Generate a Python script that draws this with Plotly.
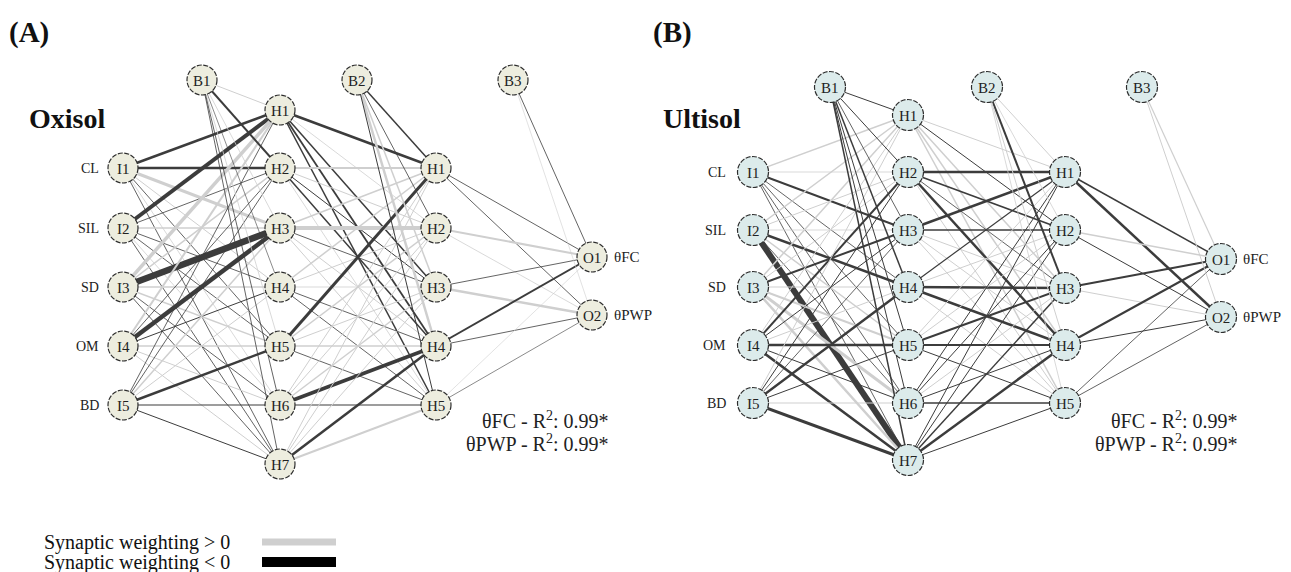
import plotly.graph_objects as go

# ---------------- DATA ----------------
input_labels = ["CL", "SIL", "SD", "OM", "BD"]
output_labels = ["θFC", "θPWP"]
panel_titles = ["Oxisol", "Ultisol"]
panel_tags = ["(A)", "(B)"]
r2_text = ["θFC - R<sup>2</sup>: 0.99*", "θPWP - R<sup>2</sup>: 0.99*"]

# weights (sign: + light grey, - dark) ; rows = source nodes, cols = target nodes
# Panel A (Oxisol)
A_in_h1 = [
    [-2.5, -2.5,  3.0,  1.0, -0.8,  0.8, -0.8],   # I1
    [-4.0, -0.8,  1.5, -0.8, -0.8,  0.8, -0.8],   # I2
    [ 3.5,  1.5, -6.5,  1.5,  1.5, -0.8, -0.8],   # I3
    [ 2.0, -0.8, -4.5, -1.0,  1.5,  1.0,  1.0],   # I4
    [-0.8, -0.8,  1.5,  1.0, -2.5, -1.2, -1.0],   # I5
]
A_b1_h1 = [1.0, -2.0, 0.8, -0.6, 0.8, -0.8, -0.8]
A_h1_h2 = [
    [-2.5,  0.8, -1.5, -1.8, -1.5],   # H1
    [ 2.0,  1.0, -1.0, -1.5,  0.8],   # H2
    [ 1.5,  4.0, -0.8,  1.0,  1.0],   # H3
    [ 1.5,  1.0,  0.8, -0.8, -0.8],   # H4
    [-3.0,  1.5,  1.0,  1.5, -0.8],   # H5
    [ 1.0,  1.0,  1.5, -3.5, -1.2],   # H6
    [ 1.0,  1.0,  1.0, -2.5,  2.0],   # H7
]
A_b2_h2 = [-1.5, -0.8, 1.5, 2.5, -1.0]
A_h2_out = [
    [-0.8, -0.8],
    [ 2.0,  0.8],
    [-0.8,  2.5],
    [-2.0, -0.8],
    [ 0.6, -0.6],
]
A_b3_out = [-0.8, 0.6]

# Panel B (Ultisol)
B_in_h1 = [
    [ 1.5,  0.8, -2.0, -0.8, -0.8, -0.8, -0.8],   # I1
    [ 1.5,  1.0,  0.8, -2.5,  1.5, -0.8, -6.0],   # I2
    [ 1.5,  1.0, -2.0,  1.0,  2.0,  3.0,  2.5],   # I3
    [ 1.0, -2.0, -1.0,  1.0, -2.5, -1.0, -2.5],   # I4
    [ 1.0, -1.0, -0.8, -2.5, -1.0,  1.0, -3.0],   # I5
]
B_b1_h1 = [-1.0, -1.0, -0.8, -1.5, -1.0, -1.0, -1.5]
B_h1_h2 = [
    [ 1.0, -1.0,  1.5,  1.5,  1.5],   # H1
    [-2.5, -1.5, -0.8, -2.5,  1.0],   # H2
    [-2.5, -1.5,  1.0,  1.0,  1.0],   # H3
    [-1.2,  1.0, -2.5, -2.5,  1.0],   # H4
    [ 1.0,  1.0, -2.0, -1.8, -1.0],   # H5
    [-1.0, -1.0,  1.0, -1.0, -1.5],   # H6
    [-1.0, -1.0, -1.5, -2.5, -1.0],   # H7
]
B_b2_h2 = [1.0, 0.8, -2.0, 1.0, 0.8]
B_h2_out = [
    [-1.5, -2.5],
    [ 1.5, -1.0],
    [-2.0,  1.0],
    [-2.0, -1.0],
    [-0.8, -0.8],
]
B_b3_out = [1.2, 1.0]

# ---------------- LAYOUT / STYLE ----------------
W, H = 1291, 572
POS_COL = "#cfcfcf"
NEG_COL = "#3c3c3c"
FONT = "Liberation Serif, Times New Roman, serif"

panels = [
    dict(xI=123, xH1=280, xH2=436, xO=592, xB=[202, 357, 513], yB=80,
         yI=[168, 228, 287, 346, 405], yH1=[110, 168, 228, 287, 346, 405, 464],
         yH2=[168, 228, 287, 346, 405], yO=[257, 315],
         fill="#ededdf", w=[A_in_h1, A_b1_h1, A_h1_h2, A_b2_h2, A_h2_out, A_b3_out],
         title_xy=(27, 118), tag_xy=(7, 32), lab_x=101, r2_x=611, r=15),
    dict(xI=753, xH1=908, xH2=1065, xO=1221, xB=[830, 987, 1142], yB=87,
         yI=[172, 230, 287, 345, 403], yH1=[115, 172, 230, 287, 345, 403, 460],
         yH2=[172, 230, 288, 345, 403], yO=[259, 317],
         fill="#dcebeb", w=[B_in_h1, B_b1_h1, B_h1_h2, B_b2_h2, B_h2_out, B_b3_out],
         title_xy=(661, 118), tag_xy=(651, 32), lab_x=728, r2_x=1240, r=15.5),
]

fig = go.Figure()
shapes = []
annotations = []


def edge(x0, y0, x1, y1, wt):
    fig.add_trace(go.Scatter(
        x=[x0, x1], y=[y0, y1], mode="lines",
        line=dict(color=POS_COL if wt > 0 else NEG_COL, width=max(0.6, abs(wt) * 1.0)),
        hoverinfo="skip", showlegend=False))


def node(x, y, r, fill, label):
    shapes.append(dict(type="circle", xref="x", yref="y", x0=x - r, x1=x + r, y0=y - r, y1=y + r,
                       fillcolor=fill, line=dict(color="#2e2e2e", width=1.2, dash="5px,1.5px"),
                       layer="above"))
    annotations.append(dict(x=x, y=y + 0.5, text=label, showarrow=False, xref="x", yref="y",
                            font=dict(family=FONT, size=15, color="#222"),
                            xanchor="center", yanchor="middle"))


for p in panels:
    w_in, w_b1, w_hh, w_b2, w_out, w_b3 = p["w"]
    # edges: inputs -> hidden 1
    for i, yi in enumerate(p["yI"]):
        for j, yh in enumerate(p["yH1"]):
            edge(p["xI"], yi, p["xH1"], yh, w_in[i][j])
    for j, yh in enumerate(p["yH1"]):
        edge(p["xB"][0], p["yB"], p["xH1"], yh, w_b1[j])
    # hidden 1 -> hidden 2
    for i, y1 in enumerate(p["yH1"]):
        for j, y2 in enumerate(p["yH2"]):
            edge(p["xH1"], y1, p["xH2"], y2, w_hh[i][j])
    for j, y2 in enumerate(p["yH2"]):
        edge(p["xB"][1], p["yB"], p["xH2"], y2, w_b2[j])
    # hidden 2 -> outputs
    for i, y2 in enumerate(p["yH2"]):
        for j, yo in enumerate(p["yO"]):
            edge(p["xH2"], y2, p["xO"], yo, w_out[i][j])
    for j, yo in enumerate(p["yO"]):
        edge(p["xB"][2], p["yB"], p["xO"], yo, w_b3[j])

    r = p["r"]
    for k, y in enumerate(p["yI"]):
        node(p["xI"], y, r, p["fill"], f"I{k + 1}")
        annotations.append(dict(x=p["lab_x"], y=y, text=input_labels[k], showarrow=False,
                                xref="x", yref="y", xanchor="right", yanchor="middle",
                                font=dict(family=FONT, size=14, color="#222")))
    for k, y in enumerate(p["yH1"]):
        node(p["xH1"], y, r, p["fill"], f"H{k + 1}")
    for k, y in enumerate(p["yH2"]):
        node(p["xH2"], y, r, p["fill"], f"H{k + 1}")
    for k, y in enumerate(p["yO"]):
        node(p["xO"], y, r, p["fill"], f"O{k + 1}")
        annotations.append(dict(x=p["xO"] + 20, y=y, text=output_labels[k], showarrow=False,
                                xref="x", yref="y", xanchor="left", yanchor="middle",
                                font=dict(family=FONT, size=15, color="#222")))
    for k, xb in enumerate(p["xB"]):
        node(xb, p["yB"], r, p["fill"], f"B{k + 1}")

for idx, p in enumerate(panels):
    annotations.append(dict(x=p["title_xy"][0], y=p["title_xy"][1], text=f"<b>{panel_titles[idx]}</b>",
                            showarrow=False, xref="x", yref="y", xanchor="left", yanchor="middle",
                            font=dict(family=FONT, size=28, color="#111")))
    annotations.append(dict(x=p["tag_xy"][0], y=p["tag_xy"][1], text=f"<b>{panel_tags[idx]}</b>",
                            showarrow=False, xref="x", yref="y", xanchor="left", yanchor="middle",
                            font=dict(family=FONT, size=29, color="#111")))
    for k, t in enumerate(r2_text):
        annotations.append(dict(x=p["r2_x"], y=420 + 23 * k, text=t, showarrow=False,
                                xref="x", yref="y", xanchor="right", yanchor="middle",
                                font=dict(family=FONT, size=20, color="#222")))

# legend
legend_items = [("Synaptic weighting > 0", POS_COL, 7), ("Synaptic weighting < 0", "#000000", 10)]
for k, (txt, col, lw) in enumerate(legend_items):
    y = 542 + 20 * k
    annotations.append(dict(x=42, y=y, text=txt, showarrow=False, xref="x", yref="y",
                            xanchor="left", yanchor="middle",
                            font=dict(family=FONT, size=20, color="#111")))
    fig.add_trace(go.Scatter(x=[262, 336], y=[y, y], mode="lines",
                             line=dict(color=col, width=lw), hoverinfo="skip", showlegend=False))

fig.update_layout(
    width=W, height=H, margin=dict(l=0, r=0, t=0, b=0),
    paper_bgcolor="white", plot_bgcolor="white",
    xaxis=dict(range=[0, W], visible=False, fixedrange=True),
    yaxis=dict(range=[H, 0], visible=False, fixedrange=True),
    shapes=shapes, annotations=annotations, showlegend=False,
)

fig.write_html("out.html")
